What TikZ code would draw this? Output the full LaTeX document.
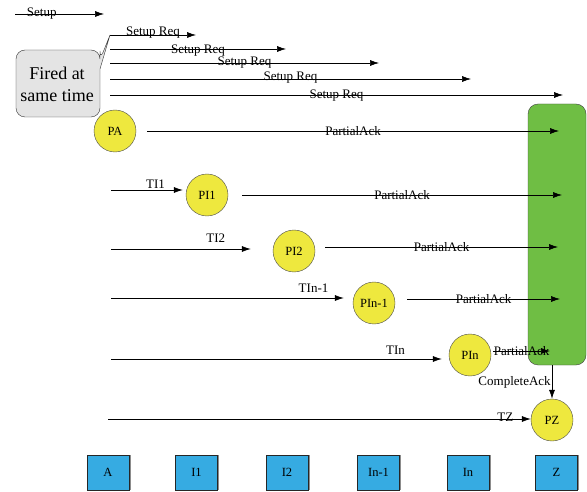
\documentclass[tikz,border=0pt]{standalone}
\usepackage{fontspec}
\setmainfont{Liberation Serif}
\usetikzlibrary{arrows.meta,shadows}
\definecolor{procyellow}{RGB}{238,232,62}
\definecolor{zonegreen}{RGB}{111,190,68}
\definecolor{siteblue}{RGB}{54,171,226}
\definecolor{notegray}{RGB}{228,228,228}

\begin{document}
\begin{tikzpicture}[x=1pt, y=-1pt,
	msg/.style={-{Latex[length=9pt,width=6pt]}, line width=0.6pt},
	lbl/.style={font=\fontsize{13}{14}\selectfont, inner sep=1pt},
	proc/.style={circle, draw=black!70, fill=procyellow, minimum size=42pt, inner sep=0pt, font=\fontsize{12.5}{13}\selectfont},
	site/.style={rectangle, draw=black!85, fill=siteblue, minimum width=42pt, minimum height=35pt, font=\fontsize{12.5}{13}\selectfont, drop shadow={shadow xshift=1.5pt, shadow yshift=0pt, fill=black!45, opacity=1}},
	zone/.style={rectangle, rounded corners=10pt, draw=black!75, fill=zonegreen, minimum width=58pt, minimum height=261pt},
	note/.style={align=center, inner sep=0pt, font=\fontsize{18}{22}\selectfont}
	]
			%%%%% START %%%%%
			\useasboundingbox (0,0) rectangle (587,492);
			
			% legend arrow
			\coordinate (setupa) at (15,14);
			\coordinate (setupb) at (104,14);
			\draw[msg] (setupa) -- node[lbl, pos=0.3] (setuplbl) {Setup} (setupb);
			
			% setup requests, all fired at once
			\foreach \y/\xe/\n/\dy in {35/196/1/2, 49/286/2/-2, 63/379/3/0, 79/471/4/1, 95/563/5/-1} {
				\coordinate (req\n) at (110,\y);
				\coordinate (reqend\n) at (\xe,\y);
				\draw[msg] (req\n) -- node[lbl, yshift=\dy pt] (reqlbl\n) {Setup Req} (reqend\n);
			}
			
			% callout
			\coordinate (notenw) at (16,50);
			\coordinate (notene) at (100,50);
			\coordinate (notese) at (100,117);
			\coordinate (notesw) at (16,117);
			\draw[fill=notegray, draw=black!80, rounded corners=9pt] ([yshift=-10pt]notene) [sharp corners] -- (req1) -- ([yshift=-19pt]notene) [rounded corners=9pt] -- (notese) -- (notesw) -- (notenw) -- (notene) -- cycle;
			\node[note] (fired) at (57,84) {Fired at\\same time};
			
			% collecting site
			\node[zone] (zone) at (557,234.5) {};
			\coordinate (ackx) at (548,0);
			
			% processes
			\node[proc] (pa) at (115,131) {PA};
			\node[proc] (pi1) at (207,195) {PI1};
			\node[proc] (pi2) at (294,251) {PI2};
			\node[proc] (pin1) at (374,303) {PIn-1};
			\node[proc] (pin) at (470,355) {PIn};
			\node[proc] (pz) at (552,420) {PZ};
			
			% partial acks
			\draw[msg] ([xshift=11pt]pa.east) -- node[lbl] (ackpa) {PartialAck} ([xshift=11pt]pa.east -| ackx);
			\draw[msg] ([xshift=14pt]pi1.east) -- node[lbl] (ackpi1) {PartialAck} ([xshift=14pt]pi1.east -| ackx);
			\draw[msg] ([xshift=10pt,yshift=4pt]pi2.east) -- node[lbl] (ackpi2) {PartialAck} ([xshift=10pt,yshift=4pt]pi2.east -| ackx);
			\draw[msg] ([xshift=12pt,yshift=4pt]pin1.east) -- node[lbl] (ackpin1) {PartialAck} ([xshift=12pt,yshift=4pt]pin1.east -| ackx);
			\draw[msg] ([xshift=2pt,yshift=4pt]pin.east) -- node[lbl] (ackpin) {PartialAck} ([xshift=2pt,yshift=4pt]pin.east -| ackx);
			
			% timers
			\coordinate (ti1) at (111,190);
			\coordinate (ti2) at (111,249);
			\coordinate (tin1) at (111,298);
			\coordinate (tin) at (111,359);
			\coordinate (tz) at (108,419);
			\draw[msg] (ti1) -- node[lbl, above, pos=0.62, yshift=0pt] (ti1lbl) {TI1} ([xshift=-3pt]ti1 -| pi1.west);
			\draw[msg] (ti2) -- node[lbl, above, pos=0.75, yshift=5pt] (ti2lbl) {TI2} ([xshift=-22pt]ti2 -| pi2.west);
			\draw[msg] (tin1) -- node[lbl, above, pos=0.87, yshift=4pt] (tin1lbl) {TIn-1} ([xshift=-9pt]tin1 -| pin1.west);
			\draw[msg] (tin) -- node[lbl, above, pos=0.86, yshift=3pt] (tinlbl) {TIn} ([xshift=-7pt]tin -| pin.west);
			\draw[msg] (tz) -- node[lbl, above, pos=0.94, yshift=-4pt] (tzlbl) {TZ} (tz -| pz.west);
			
			% final ack
			\draw[msg] (pz.north |- zone.south) -- node[lbl, left] (complete) {CompleteAck} (pz.north);
			
			% sites
			\node[site] (a) at (108,472.5) {A};
			\node[site] (i1) at (196.5,472.5) {I1};
			\node[site] (i2) at (287,472.5) {I2};
			\node[site] (in1) at (378.5,472.5) {In-1};
			\node[site] (in) at (468,472.5) {In};
			\node[site] (z) at (556.5,472.5) {Z};
			
			%%%%% END %%%%%
		\end{tikzpicture}
\end{document}
